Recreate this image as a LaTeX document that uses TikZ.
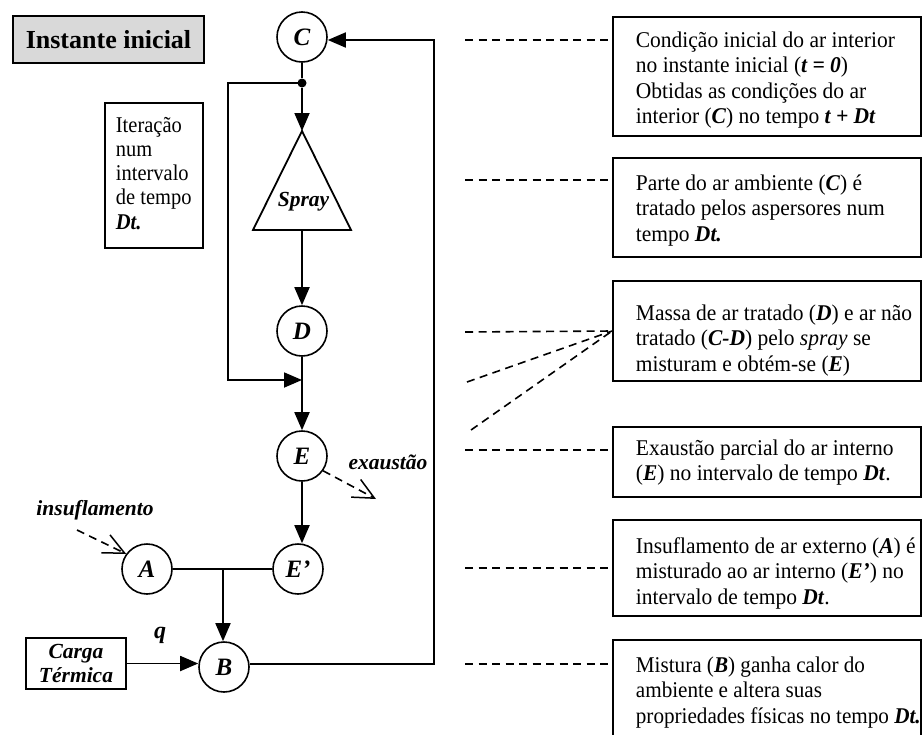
\documentclass[tikz,border=0pt]{standalone}
\usepackage{fontspec}
\usepackage{graphicx}
\setmainfont{Liberation Serif}
\usetikzlibrary{arrows.meta,calc}
\definecolor{titlegray}{RGB}{217,217,217}
\newcommand\bi[1]{\textbf{\textit{#1}}}
% left-aligned block of lines, first baseline on the node's baseline, slightly condensed
\newcommand\textlines[2][0.955]{\scalebox{#1}[1]{\begin{tabular}[t]{@{}l@{}}#2\end{tabular}}}

\begin{document}
\begin{tikzpicture}[x=1pt,y=-1pt,line width=1.8pt,
  circ/.style={circle,draw,line width=1.6pt,minimum size=50pt,inner sep=0pt,
    font=\fontsize{25}{25}\selectfont\bfseries\itshape},
  flow/.style={-{Triangle[length=18pt,width=15pt]}},
  leader/.style={line width=1.6pt,dash pattern=on 8pt off 5.5pt},
  vent/.style={leader,-{Straight Barb[length=21pt,width=20pt,line width=1.5pt]}},
  descbox/.style={draw,rectangle,inner sep=0pt,minimum width=308pt},
  desc/.style={inner sep=0pt,anchor=base west,font=\fontsize{22.5}{25.5}\selectfont},
  tag/.style={inner sep=0pt,font=\fontsize{21.5}{24}\selectfont\bfseries\itshape}]

\useasboundingbox (0,0) rectangle (923,734);

% ---- title ----
\node[draw,fill=titlegray,minimum width=191pt,minimum height=47pt,inner sep=0pt,
  font=\fontsize{26}{26}\selectfont\bfseries] (title) at (108.5,39.5) {Instante inicial};

% ---- iteration note ----
\node[draw,rectangle,minimum width=98pt,minimum height=145pt,inner sep=0pt] (iterbox) at (154,175.5) {};
\node[inner sep=0pt,anchor=base west,font=\fontsize{22.5}{24.3}\selectfont] (itertext) at (115,132)
  {\textlines[0.91]{Iteração\\num\\intervalo\\de tempo\\\bi{Dt.}}};

% ---- process nodes ----
\node[circ] (C) at (302,37) {C};
\node[circle,fill,inner sep=0pt,minimum size=9pt] (split) at (302,83) {};
\coordinate (apex) at (302,131);
\coordinate (base) at (302,230);
\draw (apex) -- (351,230) -- (253,230) -- cycle;
\node[tag] (spraylbl) at (303.5,202) {Spray};
\node[circ] (D) at (302,331) {D};
\coordinate (mix) at (302,380);
\node[circ] (E) at (302,456) {E};
\node[circ] (Ep) at (298,569) {E’};
\node[circ] (A) at (147,569) {A};
\coordinate (join) at (223,568);
\node[circ] (B) at (224,667) {B};
\node[draw,rectangle,minimum width=100pt,minimum height=51pt,inner sep=0pt,align=center,
  font=\fontsize{21.5}{24}\selectfont\bfseries\itshape] (load) at (76,663.5) {Carga\\Térmica};
\node[tag] (qlbl) at (160,635) {\fontsize{24}{24}\selectfont q};
\node[tag] (exlbl) at (388,462) {exaustão};
\node[tag] (inlbl) at (95,510) {insuflamento};
\coordinate (lpTop) at (228,83);
\coordinate (lpBot) at (228,380);
\coordinate (retB) at (434,664);
\coordinate (retC) at (434,40);
\coordinate (exhEnd) at (376,499);
\coordinate (insStart) at (77,530);

% ---- connectors ----
\draw (C) -- (split);
\draw[flow] (split) -- (apex);
\draw[flow] (split.center) -- (lpTop) -- (lpBot) -- (mix);
\draw[flow] (base) -- (D);
\draw (D) -- (mix);
\draw[flow] (mix) -- (E);
\draw[flow] (E) -- (E.south |- Ep.north);
\draw (A) -- (Ep);
\draw[flow] (join) -- (join |- B.north);
\draw[flow] (load.east) -- (load.east -| B.west);
\draw[flow] (B.east |- retB) -- (retB) -- (retC) -- (C.east |- retC);
\draw[vent] (E.-35) -- (exhEnd);
\draw[vent] (insStart) -- (A.144);

% ---- descriptions ----
\node[descbox,minimum height=119pt] (b1) at (767,76.5) {};
\node[descbox,minimum height=99pt] (b2) at (767,207.5) {};
\node[descbox,minimum height=100pt] (b3) at (767,331) {};
\node[descbox,minimum height=70pt] (b4) at (767,462) {};
\node[descbox,minimum height=96pt] (b5) at (767,568) {};
\node[descbox,minimum height=120pt] (b6) at (767,700) {};

\node[desc] (t1) at (635,47) {\textlines{%
  Condição inicial do ar interior\\
  no instante inicial (\bi{t = 0})\\
  Obtidas as condições do ar\\
  interior (\bi{C}) no tempo \bi{t + Dt}}};
\node[desc] (t2) at (635,190) {\textlines{%
  Parte do ar ambiente (\bi{C}) é\\
  tratado pelos aspersores num\\
  tempo \bi{Dt.}}};
\node[desc] (t3) at (635,320) {\textlines{%
  Massa de ar tratado (\bi{D}) e ar não\\
  tratado (\bi{C-D}) pelo \textit{spray} se\\
  misturam e obtém-se (\bi{E})}};
\node[desc] (t4) at (635,455) {\textlines{%
  Exaustão parcial do ar interno\\
  (\bi{E}) no intervalo de tempo \bi{Dt}.}};
\node[desc] (t5) at (635,553) {\textlines{%
  Insuflamento de ar externo (\bi{A}) é\\
  misturado ao ar interno (\bi{E’}) no\\
  intervalo de tempo \bi{Dt}.}};
\node[desc] (t6) at (635,672) {\textlines[0.94]{%
  Mistura (\bi{B}) ganha calor do\\
  ambiente e altera suas\\
  propriedades físicas no tempo \bi{Dt.}}};

% ---- leader lines ----
\coordinate (l1) at (465,40);
\coordinate (l2) at (465,180);
\coordinate (l3a) at (465,332);
\coordinate (l3b) at (467,382);
\coordinate (l3c) at (471,430);
\coordinate (l4) at (465,450);
\coordinate (l5) at (465,568);
\coordinate (l6) at (465,664);
\draw[leader] (l1) -- (l1 -| b1.west);
\draw[leader] (l2) -- (l2 -| b2.west);
\draw[leader] (l3a) -- (b3.west);
\draw[leader] (l3b) -- (b3.west);
\draw[leader] (l3c) -- (b3.west);
\draw[leader] (l4) -- (l4 -| b4.west);
\draw[leader] (l5) -- (l5 -| b5.west);
\draw[leader] (l6) -- (l6 -| b6.west);
\end{tikzpicture}
\end{document}
